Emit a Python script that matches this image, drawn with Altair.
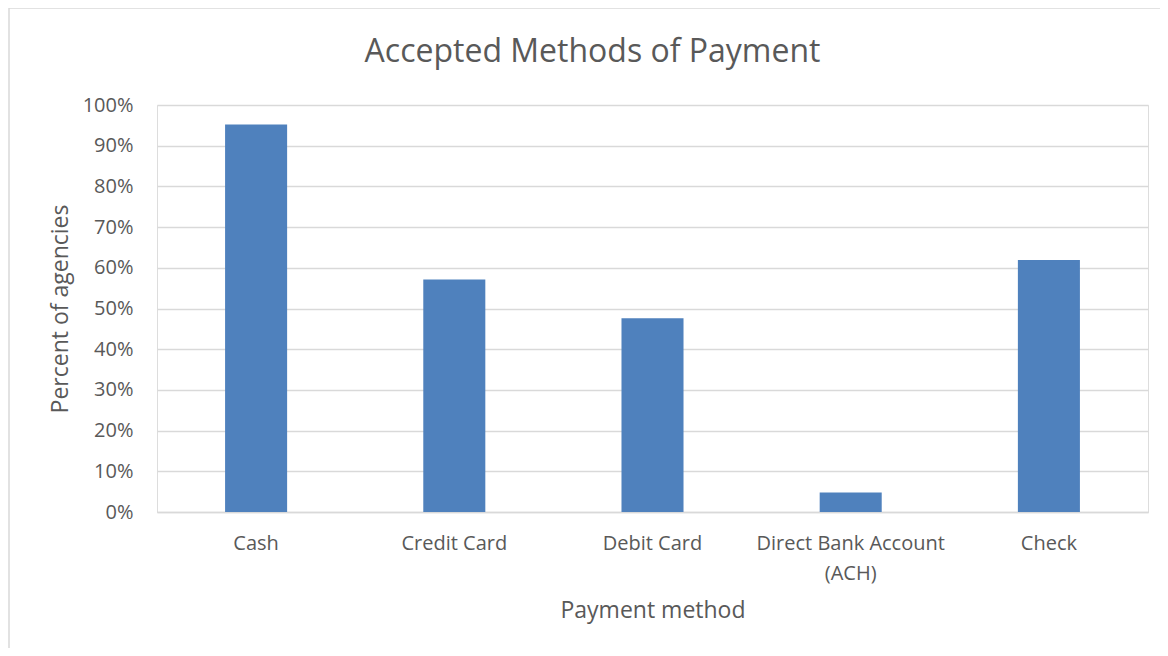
import altair as alt
import pandas as pd

categories = ["Cash", "Credit Card", "Debit Card", "Direct Bank Account\n(ACH)", "Check"]
values = [0.952, 0.571, 0.476, 0.048, 0.619]
y_ticks = [0, 0.1, 0.2, 0.3, 0.4, 0.5, 0.6, 0.7, 0.8, 0.9, 1.0]
chart_title = "Accepted Methods of Payment"

df = pd.DataFrame({"method": categories, "pct": values})

FONT = "Open Sans"
GRAY = "#595959"

bars = alt.Chart(df).mark_bar(color="#4F81BD").encode(
    x=alt.X(
        "method:N",
        sort=categories,
        scale=alt.Scale(paddingInner=0.687, paddingOuter=0.3435),
        axis=alt.Axis(
            title="Payment method",
            labelAngle=0,
            labelExpr="split(datum.label, '\\n')",
            labelLineHeight=30,
            labelPadding=21,
            labelFontSize=20,
            labelColor=GRAY,
            labelFont=FONT,
            labelLimit=400,
            ticks=False,
            domainColor="#d9d9d9",
            domainWidth=1.5,
            titleFontSize=23,
            titleFont=FONT,
            titleColor=GRAY,
            titleFontWeight="normal",
            titlePadding=16,
        ),
    ),
    y=alt.Y(
        "pct:Q",
        scale=alt.Scale(domain=[0, 1]),
        axis=alt.Axis(
            title="Percent of agencies",
            values=y_ticks,
            format=".0%",
            labelFontSize=20,
            labelColor=GRAY,
            labelFont=FONT,
            labelPadding=24,
            ticks=False,
            domain=False,
            gridColor="#d9d9d9",
            gridWidth=1.5,
            titleFontSize=23,
            titleFont=FONT,
            titleColor=GRAY,
            titleFontWeight="normal",
            titlePadding=10,
        ),
    ),
)

frame = alt.Chart(pd.DataFrame({"a": [0]})).mark_rect(
    fill="transparent", stroke="#d9d9d9", strokeWidth=1.5
).encode(
    x=alt.value(-148), x2=alt.value(1100), y=alt.value(-97), y2=alt.value(700)
)

title = alt.Chart(pd.DataFrame({"t": [chart_title]})).mark_text(
    font=FONT, fontSize=32, color=GRAY, align="center", baseline="alphabetic"
).encode(
    text="t:N", x=alt.value(435.5), y=alt.value(-43)
)

chart = alt.layer(frame, bars, title).properties(
    width=991,
    height=407,
    autosize=alt.AutoSizeParams(type="none"),
    padding={"left": 149, "top": 97, "right": 12, "bottom": 136},
).configure_view(stroke=None).configure(background="white")

chart.save("out.html", embed_options={"renderer": "svg", "actions": False})
